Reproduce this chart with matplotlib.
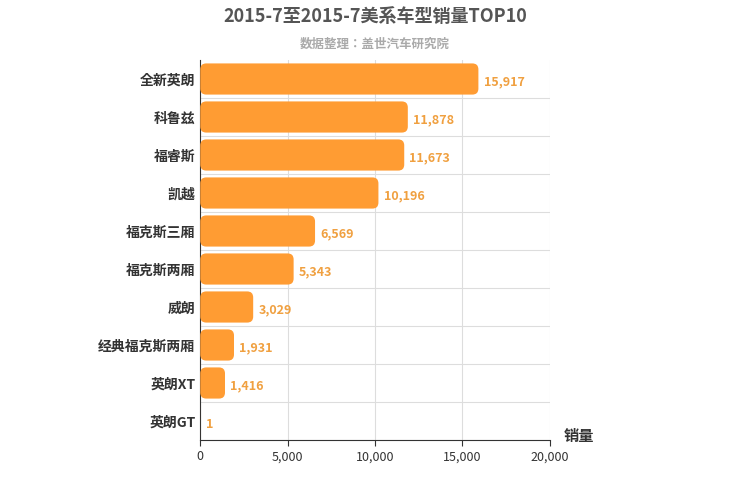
import matplotlib
matplotlib.use("Agg")
import matplotlib.pyplot as plt
from matplotlib.patches import FancyBboxPatch

plt.rcParams["font.family"] = ["Noto Sans CJK JP", "Noto Sans CJK SC", "DejaVu Sans"]

models = ["全新英朗", "科鲁兹", "福睿斯", "凯越", "福克斯三厢", "福克斯两厢",
          "威朗", "经典福克斯两厢", "英朗XT", "英朗GT"]
sales = [15917, 11878, 11673, 10196, 6569, 5343, 3029, 1931, 1416, 1]
x_ticks = [0, 5000, 10000, 15000, 20000]

fig = plt.figure(figsize=(7.5, 5), dpi=100)
ax = fig.add_axes([0.267, 0.12, 0.466, 0.76])
ax.set_xlim(0, 20000)
ax.set_ylim(len(models) - 0.5, -0.5)

# rounded bars: pixel scale for aspect
xpp = 20000 / 350
ypp = 10 / 380
for i, v in enumerate(sales):
    h = 0.82
    r = min(6 * xpp, v / 2)
    p = FancyBboxPatch((0, i - h / 2), v, h,
                       boxstyle=f"round,pad=0,rounding_size={r}",
                       mutation_aspect=ypp / xpp,
                       fc="#ff9c33", ec="none", zorder=3)
    ax.add_patch(p)
    ax.text(v + 300, i + 0.08, f"{v:,}", va="center", ha="left",
            color="#f0a040", fontsize=9, fontweight="bold", zorder=4)

ax.set_yticks(range(len(models)))
ax.set_yticklabels(models, fontsize=10, color="#333333", fontweight="bold")
ax.set_yticks([i + 0.5 for i in range(len(models))], minor=True)
ax.set_xticks(x_ticks)
ax.set_xticklabels([f"{t:,}" for t in x_ticks], fontsize=9, color="#333333")
ax.grid(True, which="minor", axis="y", color="#dddddd", lw=0.8, zorder=0)
ax.grid(True, which="major", axis="x", color="#dddddd", lw=0.8, zorder=0)
ax.tick_params(axis="y", which="both", length=0)
ax.tick_params(axis="x", length=4, color="#333333")
for s in ["top", "right"]:
    ax.spines[s].set_visible(False)
ax.spines["left"].set_color("#333333")
ax.spines["bottom"].set_color("#333333")

ax.text(1.04, -0.01, "销量", transform=ax.transAxes, fontsize=11,
        color="#333333", ha="left", va="bottom", fontweight="bold")

fig.text(0.5, 0.955, "2015-7至2015-7美系车型销量TOP10", ha="center",
         fontsize=13, fontweight="bold", color="#555555")
fig.text(0.5, 0.905, "数据整理：盖世汽车研究院", ha="center",
         fontsize=9, fontweight="bold", color="#aaaaaa")

fig.savefig("out.png")
